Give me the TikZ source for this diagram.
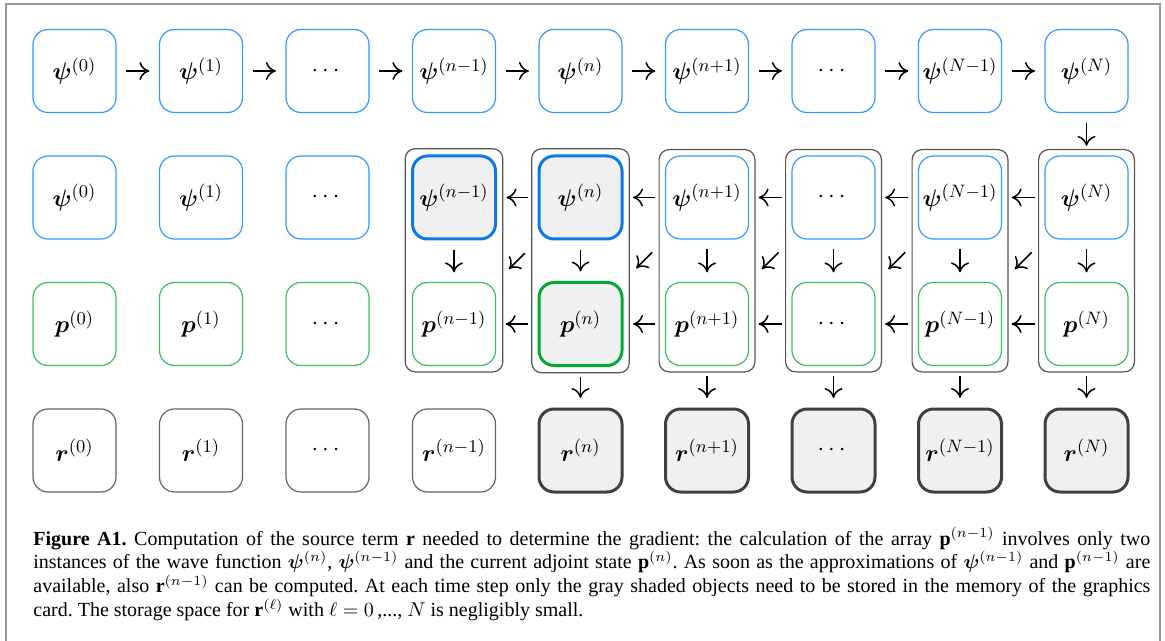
\documentclass[tikz,border=0pt]{standalone}
\usepackage{amsmath}
\usepackage{bm}
\usepackage{fontspec}
\setmainfont{Liberation Serif}
\usetikzlibrary{fit,arrows.meta}
\definecolor{bluethin}{RGB}{51,153,255}
\definecolor{bluethick}{RGB}{10,122,232}
\definecolor{greenthin}{RGB}{60,190,95}
\definecolor{greenthick}{RGB}{0,170,50}
\definecolor{blackthin}{RGB}{100,100,100}
\definecolor{blackthick}{RGB}{64,64,64}
\definecolor{boxfill}{RGB}{240,240,240}
\definecolor{grpgray}{RGB}{85,85,85}
\definecolor{framegray}{RGB}{150,150,150}
\begin{document}
\begin{tikzpicture}[x=0.5pt,y=-0.5pt,
  box/.style={minimum width=41.5pt, minimum height=41.5pt, rounded corners=7.5pt,
    inner sep=0pt, line width=0.6pt, font=\fontsize{12.2}{15}\selectfont},
  psi/.style={box, draw=bluethin},
  psiS/.style={box, draw=bluethick, line width=1.5pt, fill=boxfill},
  pp/.style={box, draw=greenthin},
  ppS/.style={box, draw=greenthick, line width=1.5pt, fill=boxfill},
  rr/.style={box, draw=blackthin},
  rrS/.style={box, draw=blackthick, line width=1.5pt, fill=boxfill},
  grp/.style={draw=grpgray, line width=0.6pt, rounded corners=5pt, inner sep=2.9pt},
  arr/.style={-{To[length=5pt,width=9pt]}, line width=0.75pt, shorten <=4.75pt, shorten >=4.75pt},
  darr/.style={-{To[length=5pt,width=9pt]}, line width=0.75pt, shorten <=9pt, shorten >=9pt},
  ]
\useasboundingbox (0,0) rectangle (1165,641);
\draw[framegray, line width=1pt] (6,641) -- (6,4) -- (1160,4) -- (1160,641);

% row 1
\foreach \i/\st/\t in {1/psi/{\bm{\psi}^{(0)}},2/psi/{\bm{\psi}^{(1)}},3/psi/{\cdots},
  4/psi/{\bm{\psi}^{(n-1)}},5/psi/{\bm{\psi}^{(n)}},6/psi/{\bm{\psi}^{(n+1)}},
  7/psi/{\cdots},8/psi/{\bm{\psi}^{(N-1)}},9/psi/{\bm{\psi}^{(N)}}}
  \node[\st] (a\i) at ({74.5+126.5*(\i-1)},71) {$\t$};
% row 2
\foreach \i/\st/\t in {1/psi/{\bm{\psi}^{(0)}},2/psi/{\bm{\psi}^{(1)}},3/psi/{\cdots},
  4/psiS/{\bm{\psi}^{(n-1)}},5/psiS/{\bm{\psi}^{(n)}},6/psi/{\bm{\psi}^{(n+1)}},
  7/psi/{\cdots},8/psi/{\bm{\psi}^{(N-1)}},9/psi/{\bm{\psi}^{(N)}}}
  \node[\st] (b\i) at ({74.5+126.5*(\i-1)},197.5) {$\t$};
% row 3
\foreach \i/\st/\t in {1/pp/{\bm{p}^{(0)}},2/pp/{\bm{p}^{(1)}},3/pp/{\cdots},
  4/pp/{\bm{p}^{(n-1)}},5/ppS/{\bm{p}^{(n)}},6/pp/{\bm{p}^{(n+1)}},
  7/pp/{\cdots},8/pp/{\bm{p}^{(N-1)}},9/pp/{\bm{p}^{(N)}}}
  \node[\st] (c\i) at ({74.5+126.5*(\i-1)},324) {$\t$};
% row 4
\foreach \i/\st/\t in {1/rr/{\bm{r}^{(0)}},2/rr/{\bm{r}^{(1)}},3/rr/{\cdots},
  4/rr/{\bm{r}^{(n-1)}},5/rrS/{\bm{r}^{(n)}},6/rrS/{\bm{r}^{(n+1)}},
  7/rrS/{\cdots},8/rrS/{\bm{r}^{(N-1)}},9/rrS/{\bm{r}^{(N)}}}
  \node[\st] (d\i) at ({74.5+126.5*(\i-1)},450.5) {$\t$};

% groups
\foreach \i in {4,...,9}
  \node[grp, fit=(b\i)(c\i)] (g\i) {};

% arrows row 1
\foreach \i [evaluate=\i as \j using int(\i+1)] in {1,...,8}
  \draw[arr] (a\i) -- (a\j);
\draw[arr] (a9) -- (b9);
% backward arrows rows 2 and 3, diagonals
\foreach \i [evaluate=\i as \j using int(\i+1)] in {4,...,8}{
  \draw[arr] (b\j) -- (b\i);
  \draw[arr] (c\j) -- (c\i);
  \draw[darr] (b\j) -- (c\i);
}
% down arrows
\foreach \i in {4,...,9}
  \draw[arr] (b\i) -- (c\i);
\foreach \i in {5,...,9}
  \draw[arr] (c\i) -- (d\i);

% caption
\node[anchor=north west, text width=558.5pt, align=justify, inner sep=0pt,
  font=\fontsize{10}{11.85}\selectfont\frenchspacing] (cap) at (33,527)
 {\textbf{Figure A1.} Computation of the source term $\mathbf{r}$ needed to determine the gradient: the calculation of the array $\mathbf{p}^{(n-1)}$ involves only two\linebreak
 instances of the wave function $\bm{\psi}^{(n)}$,\ $\bm{\psi}^{(n-1)}$ and the current adjoint state $\mathbf{p}^{(n)}$. As soon as the approximations of $\bm{\psi}^{(n-1)}$ and $\mathbf{p}^{(n-1)}$ are\linebreak
 available, also $\mathbf{r}^{(n-1)}$ can be computed. At each time step only the gray shaded objects need to be stored in the memory of the graphics\linebreak
 card. The storage space for $\mathbf{r}^{(\ell)}$ with $\ell = 0$\,,..., $N$ is negligibly small.};
\end{tikzpicture}
\end{document}
